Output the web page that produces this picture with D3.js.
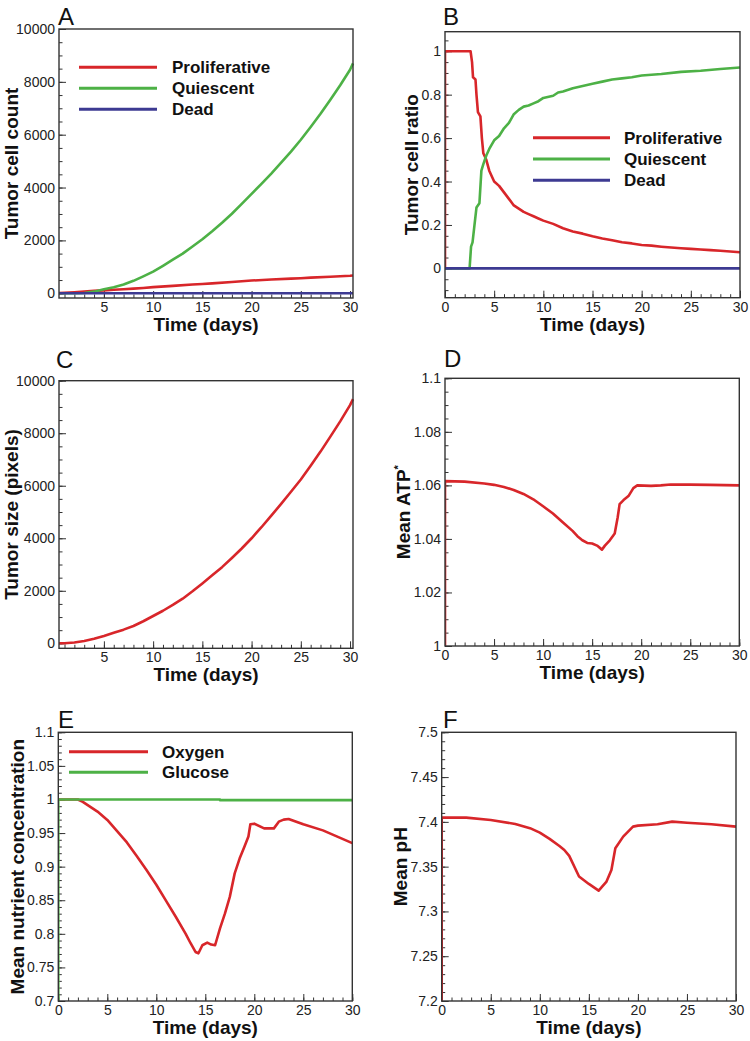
<!DOCTYPE html>
<html><head><meta charset="utf-8">
<script src="https://cdn.jsdelivr.net/npm/d3@7"></script>
<style>
html,body{margin:0;padding:0;background:#fff;}
svg{display:block;}
.tick text{font-family:"Liberation Sans",Arial,sans-serif;font-size:14px;fill:#222;}
.bold{font-family:"Liberation Sans",Arial,sans-serif;font-weight:bold;fill:#111;}
.letter{font-family:"Liberation Sans",Arial,sans-serif;font-size:24px;fill:#111;}
</style></head>
<body>
<svg id="chart" width="750" height="1041"></svg>
<script>
// ---------------- DATA ----------------
const daysTicks = [5,10,15,20,25,30];
const daysTicks0 = [0,5,10,15,20,25,30];
const countTicks = [0,2000,4000,6000,8000,10000];
const ratioTicks = [0,0.2,0.4,0.6,0.8,1];
const atpTicks = [1,1.02,1.04,1.06,1.08,1.1];
const nutrientTicks = [0.7,0.75,0.8,0.85,0.9,0.95,1,1.05,1.1];
const phTicks = [7.2,7.25,7.3,7.35,7.4,7.45,7.5];

// Panel A: tumor cell count
const countProliferative = [[0.45,5],[1,20],[2,40],[3,65],[4,90],[5,110],[6,130],[7,150],[8,175],[9,200],[10,230],[12,280],[14,330],[15,350],[16,375],[18,425],[20,480],[22,520],[24,555],[25,570],[26,590],[28,625],[30,660],[30.3,670]];
const countQuiescent = [[0.45,0],[2,0],[3,10],[4,60],[5,150],[6,230],[7,330],[8,470],[9,640],[10,820],[11,1040],[12,1270],[13,1500],[14,1770],[15,2045],[16,2350],[17,2670],[18,3010],[19,3380],[20,3760],[21,4140],[22,4530],[23,4940],[24,5360],[25,5810],[26,6290],[27,6790],[28,7320],[29,7870],[30,8460],[30.3,8700]];
const countDead = [[0.45,0],[30.3,0]];

// Panel B: tumor cell ratio
const ratioProliferative = [[0,0],[0,1],[2.6,1],[2.75,0.95],[2.85,0.88],[3.1,0.87],[3.2,0.8],[3.35,0.72],[3.6,0.7],[3.75,0.6],[3.9,0.53],[4.2,0.5],[4.5,0.45],[4.8,0.42],[5,0.4],[5.5,0.38],[6,0.35],[6.5,0.32],[7,0.29],[7.5,0.275],[8,0.26],[8.5,0.25],[9,0.24],[9.5,0.23],[10,0.22],[11,0.205],[12,0.185],[13,0.17],[14,0.16],[15,0.148],[16,0.138],[17,0.13],[18,0.12],[19,0.115],[20,0.108],[21,0.105],[22,0.1],[23,0.096],[24,0.093],[25,0.09],[26,0.087],[27,0.084],[28,0.081],[29,0.078],[30,0.074]];
const ratioQuiescent = [[0,0],[2.5,0],[2.65,0.1],[2.8,0.12],[3,0.2],[3.2,0.28],[3.5,0.3],[3.7,0.45],[3.9,0.48],[4.2,0.52],[4.5,0.55],[5,0.59],[5.5,0.61],[6,0.645],[6.5,0.67],[7,0.71],[7.5,0.73],[8,0.745],[8.5,0.75],[9,0.76],[9.5,0.77],[10,0.785],[11,0.795],[11.5,0.81],[12,0.815],[13,0.83],[14,0.84],[15,0.85],[16,0.86],[17,0.87],[18,0.875],[19,0.88],[20,0.888],[22,0.895],[24,0.905],[26,0.91],[28,0.918],[30,0.925]];
const ratioDead = [[0,0],[30,0]];

// Panel C: tumor size
const tumorSize = [[0.45,0],[1,5],[2,30],[3,90],[4,170],[5,280],[6,400],[7,520],[8,660],[9,840],[10,1040],[11,1240],[12,1460],[13,1700],[14,1980],[15,2280],[16,2590],[17,2900],[18,3250],[19,3610],[20,4000],[21,4420],[22,4860],[23,5310],[24,5770],[25,6240],[26,6760],[27,7300],[28,7870],[29,8450],[30,9070],[30.3,9300]];

// Panel D: mean ATP*
const meanATP = [[0,1],[0,1.0616],[2,1.0614],[4,1.0607],[5,1.0602],[6,1.0594],[7,1.0583],[8,1.0568],[9,1.0548],[10,1.0522],[11,1.0495],[12,1.0462],[13,1.043],[13.5,1.041],[14,1.0395],[14.5,1.0385],[15,1.0383],[15.5,1.0375],[16,1.036],[16.3,1.0375],[16.8,1.0395],[17.3,1.042],[17.6,1.048],[17.8,1.053],[18.2,1.0545],[18.7,1.056],[19.2,1.059],[19.6,1.06],[21,1.0598],[22,1.06],[23,1.0603],[25,1.0603],[27,1.0602],[30,1.06]];

// Panel E: mean nutrient concentration
const oxygen = [[0,1],[2,1],[2.5,0.9965],[3,0.9916],[4,0.982],[5,0.9695],[6,0.953],[7,0.936],[8,0.916],[9,0.895],[10,0.873],[11,0.849],[12,0.825],[13,0.8],[13.5,0.786],[14,0.773],[14.3,0.771],[14.7,0.783],[15.2,0.787],[15.6,0.784],[16,0.783],[16.5,0.808],[17,0.83],[17.5,0.855],[18,0.89],[18.5,0.912],[19,0.93],[19.4,0.945],[19.6,0.963],[20,0.964],[21,0.957],[22,0.957],[22.5,0.967],[23,0.97],[23.5,0.971],[25,0.963],[27,0.954],[30,0.935]];
const glucose = [[0,0.7],[0,1],[16.5,1],[16.5,0.999],[30,0.999]];

// Panel F: mean pH
const meanPH = [[0,7.2],[0,7.4047],[2.5,7.4047],[5,7.402],[7.5,7.3977],[9,7.393],[10,7.388],[11,7.381],[12,7.373],[12.5,7.3686],[13,7.362],[14,7.339],[15,7.3307],[16,7.3232],[16.8,7.3333],[17.3,7.3463],[17.7,7.3705],[18.5,7.3835],[19.5,7.3947],[20,7.3958],[22,7.3973],[23.5,7.4003],[25,7.3991],[27.5,7.3973],[30,7.3947]];

// ---------------- STYLE / LAYOUT ----------------
const RED = "#d8262a", GREEN = "#4db146", BLUE = "#3d3a92";
const svg = d3.select("#chart");

function range(a, b, s) { const out = []; for (let v = a; v <= b + s * 1e-6; v += s) out.push(+v.toFixed(6)); return out; }

function panel(cfg) {
  const g = svg.append("g");
  const x = d3.scaleLinear().domain(cfg.xdom).range([cfg.x0, cfg.x1]);
  const y = d3.scaleLinear().domain(cfg.ydom).range([cfg.y1, cfg.y0]);
  const clipId = "clip" + cfg.letter;
  svg.append("clipPath").attr("id", clipId).append("rect")
    .attr("x", cfg.x0).attr("y", cfg.y0 - 2).attr("width", cfg.x1 - cfg.x0 + 2).attr("height", cfg.y1 - cfg.y0 + 3);

  // minor ticks
  g.append("g").attr("transform", `translate(0,${cfg.y1})`)
    .call(d3.axisBottom(x).tickValues(cfg.xminor).tickSize(-3.5).tickFormat(""))
    .call(a => a.select(".domain").remove()).selectAll("line").attr("stroke", "#333");
  g.append("g").attr("transform", `translate(${cfg.x0},0)`)
    .call(d3.axisLeft(y).tickValues(cfg.yminor).tickSize(-3.5).tickFormat(""))
    .call(a => a.select(".domain").remove()).selectAll("line").attr("stroke", "#333");
  // major ticks
  const xa = g.append("g").attr("transform", `translate(0,${cfg.y1})`)
    .call(d3.axisBottom(x).tickValues(cfg.xticks).tickSize(-7).tickPadding(5).tickFormat(d3.format("~g")));
  xa.select(".domain").remove();
  xa.selectAll("line").attr("stroke", "#333");
  xa.selectAll("text").attr("dy", "0.71em").attr("y", 4);
  const ya = g.append("g").attr("transform", `translate(${cfg.x0},0)`)
    .call(d3.axisLeft(y).tickValues(cfg.yticks).tickSize(-7).tickPadding(4).tickFormat(d3.format("~g")));
  ya.select(".domain").remove();
  ya.selectAll("line").attr("stroke", "#333");

  // series
  const line = d3.line().x(d => x(d[0])).y(d => y(d[1]));
  const lg = g.append("g").attr("clip-path", `url(#${clipId})`);
  cfg.series.forEach(s => {
    lg.append("path").datum(s.data).attr("d", line).attr("fill", "none")
      .attr("stroke", s.color).attr("stroke-width", 2.6).attr("stroke-linejoin", "round");
  });

  // frame
  g.append("rect").attr("x", cfg.x0).attr("y", cfg.y0).attr("width", cfg.x1 - cfg.x0).attr("height", cfg.y1 - cfg.y0)
    .attr("fill", "none").attr("stroke", "#333").attr("stroke-width", 1.4);

  // legend
  if (cfg.legend) {
    cfg.series.filter(s => s.name).forEach((s, i) => {
      const yy = cfg.legend.y + i * cfg.legend.dy;
      g.append("line").attr("x1", cfg.legend.x1).attr("x2", cfg.legend.x2).attr("y1", yy).attr("y2", yy)
        .attr("stroke", s.color).attr("stroke-width", 3);
      g.append("text").attr("class", "bold").attr("x", cfg.legend.tx).attr("y", yy + 6)
        .style("font-size", "17px").text(s.name);
    });
  }

  // axis titles
  g.append("text").attr("class", "bold").attr("x", (cfg.x0 + cfg.x1) / 2).attr("y", cfg.y1 + 33)
    .attr("text-anchor", "middle").style("font-size", "19px").text("Time (days)");
  const yt = g.append("text").attr("class", "bold")
    .attr("transform", `translate(${cfg.ytx},${(cfg.y0 + cfg.y1) / 2}) rotate(-90)`)
    .attr("text-anchor", "middle").style("font-size", "19px");
  yt.append("tspan").text(cfg.ytitle);
  if (cfg.ysup) yt.append("tspan").attr("dy", -8).style("font-size", "11px").text(cfg.ysup);

  // panel letter
  g.append("text").attr("class", "letter").attr("x", cfg.lx).attr("y", cfg.ly).text(cfg.letter);
}

panel({letter:"A", lx:58, ly:25, x0:59, x1:353, y0:29, y1:298, xdom:[0.44,30.3], ydom:[-180,10000],
  xticks:daysTicks, xminor:range(1,30,1), yticks:countTicks, yminor:range(0,10000,500),
  ytitle:"Tumor cell count", ytx:18,
  legend:{x1:79, x2:157, tx:172, y:67.3, dy:21},
  series:[{name:"Proliferative", color:RED, data:countProliferative},
          {name:"Quiescent", color:GREEN, data:countQuiescent},
          {name:"Dead", color:BLUE, data:countDead}]});

panel({letter:"B", lx:443, ly:25, x0:445, x1:740, y0:31.7, y1:297.7, xdom:[0,30], ydom:[-0.135,1.09],
  xticks:daysTicks0, xminor:range(0,30,1), yticks:ratioTicks, yminor:range(-0.1,1.05,0.05),
  ytitle:"Tumor cell ratio", ytx:418,
  legend:{x1:533, x2:610, tx:624, y:137.7, dy:21.3},
  series:[{name:"Proliferative", color:RED, data:ratioProliferative},
          {name:"Quiescent", color:GREEN, data:ratioQuiescent},
          {name:"Dead", color:BLUE, data:ratioDead}]});

panel({letter:"C", lx:56, ly:368, x0:59, x1:353, y0:380.7, y1:648.3, xdom:[0.44,30.3], ydom:[-190,10000],
  xticks:daysTicks, xminor:range(1,30,1), yticks:countTicks, yminor:range(0,10000,500),
  ytitle:"Tumor size (pixels)", ytx:18,
  series:[{color:RED, data:tumorSize}]});

panel({letter:"D", lx:444, ly:367, x0:445, x1:739.3, y0:378.3, y1:646, xdom:[0,30], ydom:[1,1.1],
  xticks:daysTicks0, xminor:range(0,30,1), yticks:atpTicks, yminor:range(1,1.1,0.005),
  ytitle:"Mean ATP", ysup:"*", ytx:410,
  series:[{color:RED, data:meanATP}]});

panel({letter:"E", lx:58, ly:727.7, x0:58.3, x1:352.3, y0:732.3, y1:1001, xdom:[0,30], ydom:[0.7,1.1],
  xticks:daysTicks0, xminor:range(0,30,1), yticks:nutrientTicks, yminor:range(0.7,1.1,0.01),
  ytitle:"Mean nutrient concentration", ytx:24,
  legend:{x1:69, x2:148, tx:162, y:751.7, dy:20.6},
  series:[{name:"Oxygen", color:RED, data:oxygen},
          {name:"Glucose", color:GREEN, data:glucose}]});

panel({letter:"F", lx:443, ly:727.7, x0:441.7, x1:736, y0:732.3, y1:1001, xdom:[0,30], ydom:[7.2,7.5],
  xticks:daysTicks0, xminor:range(0,30,1), yticks:phTicks, yminor:range(7.2,7.5,0.01),
  ytitle:"Mean pH", ytx:406.7,
  series:[{color:RED, data:meanPH}]});
</script>
</body></html>
